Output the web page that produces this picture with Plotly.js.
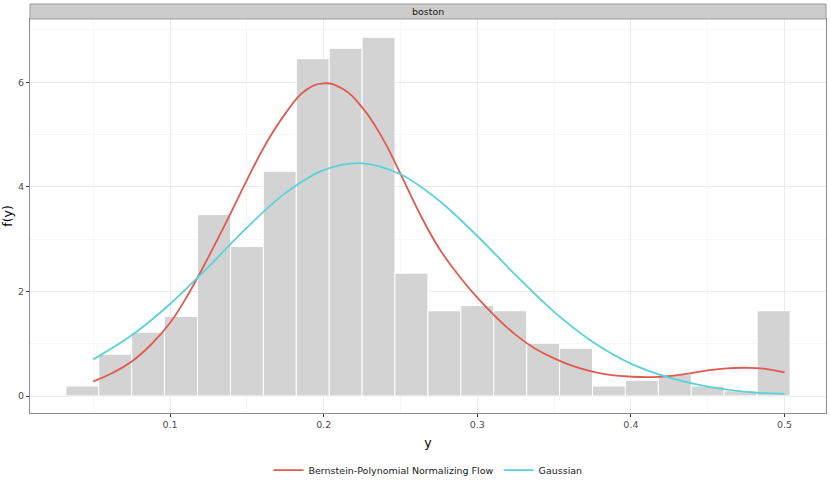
<!DOCTYPE html>
<html>
<head>
<meta charset="utf-8">
<script src="https://cdn.plot.ly/plotly-3.0.1.min.js"></script>
<style>html,body{margin:0;padding:0;background:#fff}#chart{width:831px;height:493px}</style>
</head>
<body>
<div id="chart"></div>
<script>
// Histogram (density) bins
var binCenters = [0.0429, 0.0643, 0.0857, 0.1071, 0.1286, 0.1500, 0.1714, 0.1929, 0.2143, 0.2357, 0.2571,
                  0.2786, 0.3000, 0.3214, 0.3429, 0.3643, 0.3857, 0.4071, 0.4286, 0.4500, 0.4714, 0.4929];
var binDensity = [0.19, 0.80, 1.22, 1.52, 3.47, 2.86, 4.30, 6.45, 6.65, 6.86, 2.35,
                  1.63, 1.73, 1.63, 1.01, 0.91, 0.19, 0.30, 0.41, 0.19, 0.10, 1.63];
var binWidth = 0.02143;

// Bernstein-Polynomial Normalizing Flow density curve
var bnfX = [0.050, 0.0625, 0.075, 0.0875, 0.100, 0.1125, 0.125, 0.1375, 0.150, 0.1625, 0.175, 0.1875,
            0.200, 0.2125, 0.225, 0.2375, 0.250, 0.2625, 0.275, 0.2875, 0.300, 0.3125, 0.325, 0.3375,
            0.350, 0.3625, 0.375, 0.3875, 0.400, 0.4125, 0.425, 0.4375, 0.450, 0.4625, 0.475, 0.4875, 0.500];
var bnfY = [0.28, 0.44, 0.66, 0.98, 1.40, 1.98, 2.66, 3.38, 4.13, 4.83, 5.40, 5.83,
            5.98, 5.87, 5.52, 4.97, 4.25, 3.49, 2.83, 2.32, 1.88, 1.50, 1.17, 0.91,
            0.72, 0.57, 0.465, 0.40, 0.37, 0.36, 0.38, 0.43, 0.49, 0.53, 0.54, 0.52, 0.45];

// Gaussian density curve
var gaussX = [0.050, 0.075, 0.100, 0.125, 0.150, 0.175, 0.200, 0.225, 0.250, 0.275, 0.300, 0.325,
              0.350, 0.375, 0.400, 0.425, 0.450, 0.475, 0.500];
var gaussY = [0.70, 1.16, 1.76, 2.47, 3.22, 3.88, 4.32, 4.45, 4.24, 3.74, 3.06, 2.31,
              1.61, 1.04, 0.62, 0.35, 0.18, 0.08, 0.04];

var seriesNames = ["Bernstein-Polynomial Normalizing Flow", "Gaussian"];
var xTicks = [0.1, 0.2, 0.3, 0.4, 0.5];
var xTickText = ["0.1", "0.2", "0.3", "0.4", "0.5"];
var yTicks = [0, 2, 4, 6];
var yTickText = ["0", "2", "4", "6"];
var panelLabel = "boston";

var traces = [
  {type: 'bar', x: binCenters, y: binDensity, width: binWidth, showlegend: false,
   marker: {color: '#d3d3d3', line: {color: '#ffffff', width: 1}}, hoverinfo: 'skip'},
  {type: 'scatter', mode: 'lines', x: bnfX, y: bnfY, name: seriesNames[0],
   line: {color: '#df5a50', width: 1.8, shape: 'spline', smoothing: 1.3}},
  {type: 'scatter', mode: 'lines', x: gaussX, y: gaussY, name: seriesNames[1],
   line: {color: '#5ad2d9', width: 1.8, shape: 'spline', smoothing: 1}}
];

var fnt = 'DejaVu Sans, sans-serif';
var layout = {
  width: 831, height: 493,
  margin: {l: 30, r: 5, t: 19, b: 80},
  paper_bgcolor: '#ffffff', plot_bgcolor: '#ffffff',
  font: {family: fnt, size: 9.5, color: '#4d4d4d'},
  bargap: 0,
  showlegend: true,
  legend: {orientation: 'h', x: 0.5, xanchor: 'center', y: -0.145, yanchor: 'middle',
           font: {family: fnt, size: 9.5, color: '#1a1a1a'}, itemwidth: 30, traceorder: 'normal'},
  xaxis: {
    range: [0.0088, 0.527], tickvals: xTicks, ticktext: xTickText,
    showgrid: true, gridcolor: '#ebebeb', gridwidth: 1,
    minor: {dtick: 0.05, tick0: 0, showgrid: true, gridcolor: '#f5f5f5', gridwidth: 0.8, ticks: ''},
    zeroline: false, showline: true, mirror: true, linecolor: '#8c8c8c', linewidth: 1,
    ticks: 'outside', ticklen: 3, tickcolor: '#333333',
    tickfont: {family: fnt, size: 9.5, color: '#4d4d4d'},
    title: {text: 'y', font: {family: fnt, size: 12.5, color: '#000'}, standoff: 8}
  },
  yaxis: {
    range: [-0.325, 7.21], tickvals: yTicks, ticktext: yTickText,
    showgrid: true, gridcolor: '#ebebeb', gridwidth: 1,
    minor: {dtick: 1, tick0: 0, showgrid: true, gridcolor: '#f5f5f5', gridwidth: 0.8, ticks: ''},
    zeroline: false, showline: true, mirror: true, linecolor: '#8c8c8c', linewidth: 1,
    ticks: 'outside', ticklen: 3, tickcolor: '#333333',
    tickfont: {family: fnt, size: 9.5, color: '#4d4d4d'},
    title: {text: 'f(y)', font: {family: fnt, size: 12.5, color: '#000'}, standoff: 8}
  },
  shapes: [
    {type: 'rect', xref: 'paper', yref: 'paper', x0: 0, x1: 1, y0: 1.0, y1: 1 + 15/394,
     fillcolor: '#cccccc', line: {color: '#999999', width: 1}, layer: 'above'}
  ],
  annotations: [
    {xref: 'paper', yref: 'paper', x: 0.5, y: 1 + 7.5/394, text: panelLabel, showarrow: false,
     xanchor: 'center', yanchor: 'middle', font: {family: fnt, size: 9.5, color: '#1a1a1a'}}
  ]
};

Plotly.newPlot('chart', traces, layout, {displayModeBar: false, staticPlot: true});
</script>
</body>
</html>
